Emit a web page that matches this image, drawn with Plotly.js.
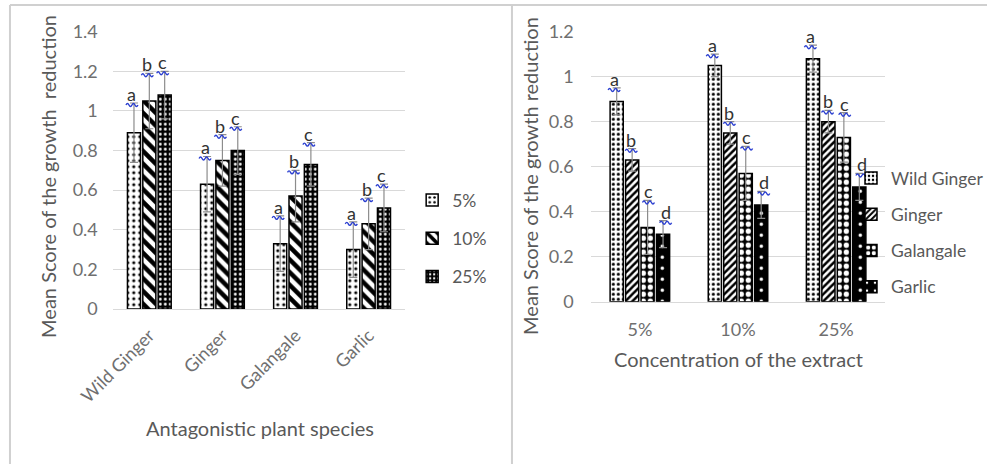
<!DOCTYPE html>
<html>
<head>
<meta charset="utf-8">
<script src="https://cdn.plot.ly/plotly-3.0.1.min.js"></script>
<style>
  html, body { margin: 0; padding: 0; background: #ffffff; }
  #chart { width: 989px; height: 464px; }
</style>
</head>
<body>
<div id="chart"></div>
<script>
// Plant species and extract concentrations
const species = ['Wild Ginger', 'Ginger', 'Galangale', 'Garlic'];
const concentrations = ['5%', '10%', '25%'];

// Mean score of the growth reduction for each species at 5%, 10%, 25%
const wildGinger = [0.89, 1.05, 1.08];
const ginger     = [0.63, 0.75, 0.80];
const galangale  = [0.33, 0.57, 0.73];
const garlic     = [0.30, 0.43, 0.51];

// Error values, left panel (one array per concentration, across species)
const err5  = [0.15, 0.14, 0.14, 0.14];
const err10 = [0.14, 0.13, 0.13, 0.13];
const err25 = [0.12, 0.12, 0.11, 0.12];

// Error values, right panel (one array per species, across concentrations)
const errWildGinger = [0.06, 0.05, 0.06];
const errGinger     = [0.05, 0.05, 0.05];
const errGalangale  = [0.12, 0.12, 0.11];
const errGarlic     = [0.06, 0.06, 0.06];

// Significance letters
const lettersBySpecies = ['a', 'b', 'c'];        // left: 5%, 10%, 25%
const lettersByConc    = ['a', 'b', 'c', 'd'];   // right: four species

const FONT = 'Lato, "Open Sans", sans-serif';
const GREY = '#595959';
const TICKGREY = '#6f6f6f';
const LETTER = '#333333';
const SQUIGGLE = '#2b3fd0';

const perSpecies = [wildGinger, ginger, galangale, garlic];

// Left panel: one trace per concentration
const leftVals = concentrations.map((c, j) => perSpecies.map(s => s[j]));
const leftErr = [err5, err10, err25];
const leftPatterns = [
  {shape: '.', bgcolor: '#ffffff', fgcolor: '#000000', size: 6, solidity: 0.22},
  {shape: '\\', bgcolor: '#ffffff', fgcolor: '#000000', size: 9, solidity: 0.5},
  {shape: '.', bgcolor: '#000000', fgcolor: '#ffffff', size: 5, solidity: 0.25}
];
const leftColors = ['#ffffff', '#ffffff', '#000000'];

// Right panel: one trace per species
const rightErr = [errWildGinger, errGinger, errGalangale, errGarlic];
const rightPatterns = [
  {shape: '.', bgcolor: '#ffffff', fgcolor: '#000000', size: 5, solidity: 0.3},
  {shape: '/', bgcolor: '#ffffff', fgcolor: '#000000', size: 5, solidity: 0.5},
  {shape: '.', bgcolor: '#000000', fgcolor: '#ffffff', size: 7, solidity: 0.45},
  {shape: '.', bgcolor: '#000000', fgcolor: '#ffffff', size: 11, solidity: 0.08}
];
const rightColors = ['#ffffff', '#ffffff', '#000000', '#000000'];

const traces = [];
concentrations.forEach((c, j) => {
  traces.push({
    type: 'bar', name: c, x: species, y: leftVals[j],
    xaxis: 'x', yaxis: 'y', legend: 'legend', legendgroup: 'L' + j,
    marker: {color: leftColors[j], line: {color: '#000000', width: 1.5}, pattern: leftPatterns[j]},
    error_y: {type: 'data', array: leftErr[j], symmetric: true, color: '#8c8c8c', thickness: 1.2, width: 4},
    hoverinfo: 'none'
  });
});
species.forEach((s, k) => {
  traces.push({
    type: 'bar', name: s, x: concentrations, y: perSpecies[k],
    xaxis: 'x2', yaxis: 'y2', legend: 'legend2', legendgroup: 'R' + k,
    marker: {color: rightColors[k], line: {color: '#000000', width: 1.5}, pattern: rightPatterns[k]},
    error_y: {type: 'data', array: rightErr[k], symmetric: true, color: '#8c8c8c', thickness: 1.2, width: 4},
    hoverinfo: 'none'
  });
});

// Bar grouping parameters (shared by bars and letter placement)
const leftGap = 0.37, rightGap = 0.30;
function slotOffset(i, n, gap) {
  const slot = (1 - gap) / n;
  return -(1 - gap) / 2 + slot * (i + 0.5);
}

const annotations = [];
const shapes = [];
// wavy underline drawn in pixels around the anchor point
const wave = 'M-6,-2 Q-4.5,1 -3,-2 Q-1.5,-5 0,-2 Q1.5,1 3,-2 Q4.5,-5 6,-2';
function addLetter(xref, yref, xpos, ytop, letter, xshift) {
  annotations.push({
    xref: xref, yref: yref, x: xpos, y: ytop, text: letter, showarrow: false,
    xanchor: 'center', yanchor: 'bottom', yshift: -4, xshift: xshift,
    font: {family: FONT, size: 18, color: LETTER}
  });
  shapes.push({
    type: 'path', xref: xref, yref: yref, xsizemode: 'pixel', ysizemode: 'pixel',
    xanchor: xpos, yanchor: ytop, path: wave.replace(/(-?\d+(\.\d+)?),/g, (m, n) => (parseFloat(n) + xshift) + ','),
    line: {color: SQUIGGLE, width: 1.4}
  });
}
concentrations.forEach((c, j) => {
  species.forEach((s, i) => {
    addLetter('x', 'y', i + slotOffset(j, 3, leftGap), leftVals[j][i] + leftErr[j][i], lettersBySpecies[j], -2);
  });
});
species.forEach((s, k) => {
  concentrations.forEach((c, i) => {
    addLetter('x2', 'y2', i + slotOffset(k, 4, rightGap), perSpecies[k][i] + rightErr[k][i], lettersByConc[k], 0);
  });
});

// Axis titles
const titleFont = {family: FONT, size: 20, color: GREY};
annotations.push({xref: 'paper', yref: 'paper', x: 48 / 989, y: 1 - 176 / 464, text: 'Mean Score of the growth  reduction',
  textangle: -90, showarrow: false, xanchor: 'center', yanchor: 'middle', font: titleFont});
annotations.push({xref: 'paper', yref: 'paper', x: 531 / 989, y: 1 - 176 / 464, text: 'Mean Score of the growth reduction',
  textangle: -90, showarrow: false, xanchor: 'center', yanchor: 'middle', font: titleFont});
annotations.push({xref: 'paper', yref: 'paper', x: 261 / 989, y: 1 - 428 / 464, text: 'Antagonistic plant species',
  showarrow: false, xanchor: 'center', yanchor: 'middle', font: titleFont});
annotations.push({xref: 'paper', yref: 'paper', x: 740 / 989, y: 1 - 359 / 464, text: 'Concentration of the extract',
  showarrow: false, xanchor: 'center', yanchor: 'middle', font: titleFont});

// Panel frame lines
const frame = {color: '#d0d0d0', width: 2};
shapes.push(
  {type: 'line', xref: 'paper', yref: 'paper', x0: 10 / 989, x1: 1, y0: 1 - 5 / 464, y1: 1 - 5 / 464, line: frame},
  {type: 'line', xref: 'paper', yref: 'paper', x0: 10 / 989, x1: 10 / 989, y0: 0, y1: 1 - 5 / 464, line: frame},
  {type: 'line', xref: 'paper', yref: 'paper', x0: 513 / 989, x1: 513 / 989, y0: 0, y1: 1 - 5 / 464, line: frame}
);

const tickFont = {family: FONT, size: 18, color: TICKGREY};
const legendFont = {family: FONT, size: 17.5, color: GREY};

const layout = {
  width: 989, height: 464,
  margin: {l: 0, r: 0, t: 0, b: 0},
  paper_bgcolor: '#ffffff', plot_bgcolor: '#ffffff',
  barmode: 'group', bargap: leftGap, bargroupgap: 0.15,
  showlegend: true,
  xaxis: {domain: [113 / 989, 406 / 989], anchor: 'y', type: 'category', tickangle: -45,
    tickfont: tickFont, showline: true, linecolor: '#d9d9d9', ticks: '', showgrid: false,
    ticklabelstandoff: 8, automargin: false, fixedrange: true},
  yaxis: {domain: [1 - 309 / 464, 1 - 31.7 / 464], anchor: 'x', range: [0, 1.4], dtick: 0.2, tickfont: tickFont,
    gridcolor: '#d9d9d9', zeroline: false, showline: false, ticks: '', ticklabelstandoff: 14, automargin: false, fixedrange: true},
  xaxis2: {domain: [592 / 989, 887 / 989], anchor: 'y2', type: 'category', tickangle: 0,
    tickfont: tickFont, showline: true, linecolor: '#d9d9d9', ticks: '', showgrid: false,
    ticklabelstandoff: 12, automargin: false, fixedrange: true},
  yaxis2: {domain: [1 - 301.7 / 464, 1 - 31.7 / 464], anchor: 'x2', range: [0, 1.2], dtick: 0.2, tickfont: tickFont,
    gridcolor: '#d9d9d9', zeroline: false, showline: false, ticks: '', ticklabelstandoff: 16, automargin: false, fixedrange: true},
  legend: {x: 413 / 989, y: 1 - 182 / 464, xanchor: 'left', yanchor: 'top', font: legendFont,
    tracegroupgap: 12.5, bgcolor: 'rgba(0,0,0,0)', itemclick: false, itemdoubleclick: false},
  legend2: {x: 853 / 989, y: 1 - 160 / 464, xanchor: 'left', yanchor: 'top', font: legendFont,
    tracegroupgap: 10.5, bgcolor: 'rgba(0,0,0,0)', itemclick: false, itemdoubleclick: false},
  annotations: annotations,
  shapes: shapes
};

Plotly.newPlot('chart', traces, layout, {displayModeBar: false, staticPlot: true});
</script>
</body>
</html>
